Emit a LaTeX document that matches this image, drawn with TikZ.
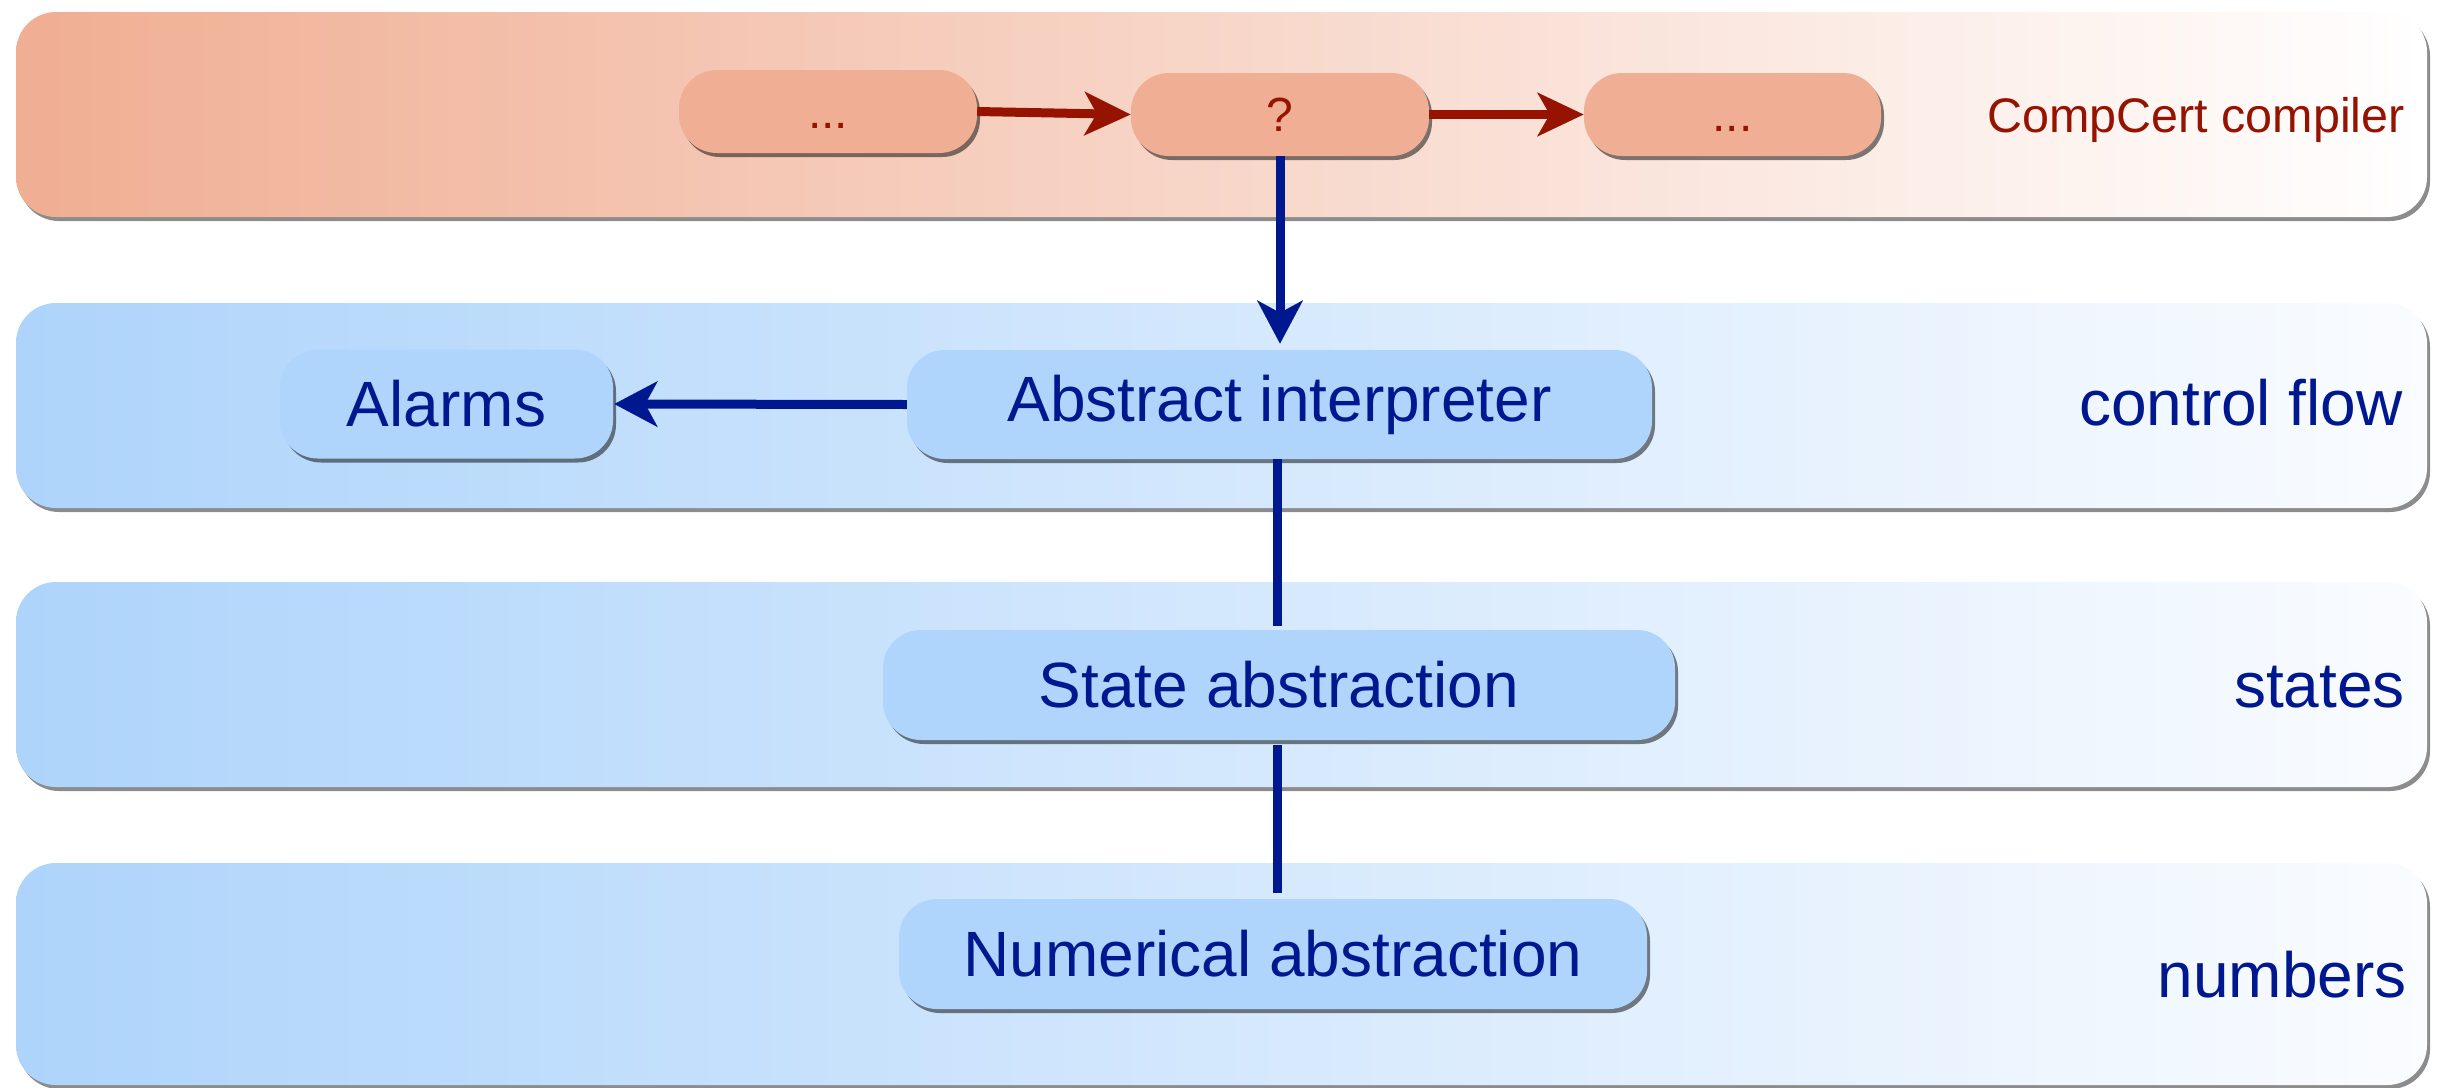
\documentclass[tikz,border=0pt]{standalone}
\usepackage{fontspec}
\setmainfont{Liberation Sans}
\usetikzlibrary{arrows.meta,shadows}
\definecolor{salmonL}{HTML}{F0AE93}
\definecolor{salmonR}{HTML}{FFFFFF}
\definecolor{salmonNode}{HTML}{F0AF94}
\definecolor{blueL}{HTML}{AED4FB}
\definecolor{blueR}{HTML}{FAFCFF}
\definecolor{blueNode}{HTML}{AFD5FC}
\definecolor{navy}{HTML}{00188F}
\definecolor{darkred}{HTML}{951300}
\tikzset{
  band/.style={rounded corners=40pt, minimum width=2411pt, inner sep=0pt,
    drop shadow={shadow xshift=3pt, shadow yshift=-4pt, fill=black, opacity=0.45}},
  redband/.style={band, left color=salmonL, right color=salmonR},
  blueband/.style={band, left color=blueL, right color=blueR},
  box/.style={rounded corners=38pt, inner sep=0pt,
    drop shadow={shadow xshift=3pt, shadow yshift=-4pt, fill=black, opacity=0.5}},
  redbox/.style={box, fill=salmonNode, minimum width=298pt, minimum height=83pt,
    text=darkred, font=\fontsize{48}{52}\selectfont},
  bluebox/.style={box, fill=blueNode, minimum height=109pt, text=navy,
    font=\fontsize{64}{70}\selectfont},
  lbl/.style={anchor=base east, inner sep=0pt, text=navy, font=\fontsize{64}{70}\selectfont},
  redarrow/.style={draw=darkred, line width=9pt, -{Stealth[length=46pt, width=43pt, inset=12pt]}},
  bluearrow/.style={draw=navy, line width=9pt, -{Stealth[length=43pt, width=45pt, inset=12pt]}},
  blueline/.style={draw=navy, line width=9pt},
}
\begin{document}
\begin{tikzpicture}[x=1pt,y=-1pt]
\useasboundingbox (0,0) rectangle (2449,1087);
\fill[white] (0,0) rectangle (2449,1087);
% bands
\node[redband, minimum height=205pt] (b1) at (1221.5,114.5) {};
\node[blueband, minimum height=205pt] (b2) at (1221.5,405.5) {};
\node[blueband, minimum height=205pt] (b3) at (1221.5,684.5) {};
\node[blueband, minimum height=222pt] (b4) at (1221.5,974) {};
% labels
\node[lbl, text=darkred, font=\fontsize{48.5}{52}\selectfont] (l1) at (2405,132) {CompCert compiler};
\node[lbl] (l2) at (2403,425) {control flow};
\node[lbl] (l3) at (2405,707) {states};
\node[lbl] (l4) at (2407,997) {numbers};
% compiler passes
\node[redbox] (p1) at (828,111.5) {\vphantom{?}...};
\node[redbox] (q) at (1280,114.5) {?};
\node[redbox, minimum width=297pt] (p3) at (1732.5,114.5) {\vphantom{?}...};
% analyzer
\node[bluebox, minimum width=745pt] (ai) at (1279.5,404.5) {Abstract interpreter};
\node[bluebox, minimum width=333pt] (al) at (446.5,404) {Alarms};
\node[bluebox, minimum width=792pt, minimum height=110pt] (sa) at (1279,685) {State abstraction};
\node[bluebox, minimum width=748pt, minimum height=110pt] (na) at (1273,954) {Numerical abstraction};
% connectors
\draw[redarrow] (p1.east) -- (q.west);
\draw[redarrow] (q.east) -- (p3.west);
\draw[bluearrow, shorten >=6pt] (q.south) -- (q.south |- ai.north);
\draw[bluearrow, shorten >=1pt] (ai.west) -- (al.east);
\draw[blueline, shorten >=4pt] (ai.south -| 1277,0) -- (sa.north -| 1277,0);
\draw[blueline, shorten <=5pt, shorten >=6pt] (sa.south -| 1277,0) -- (na.north -| 1277,0);
\end{tikzpicture}
\end{document}
